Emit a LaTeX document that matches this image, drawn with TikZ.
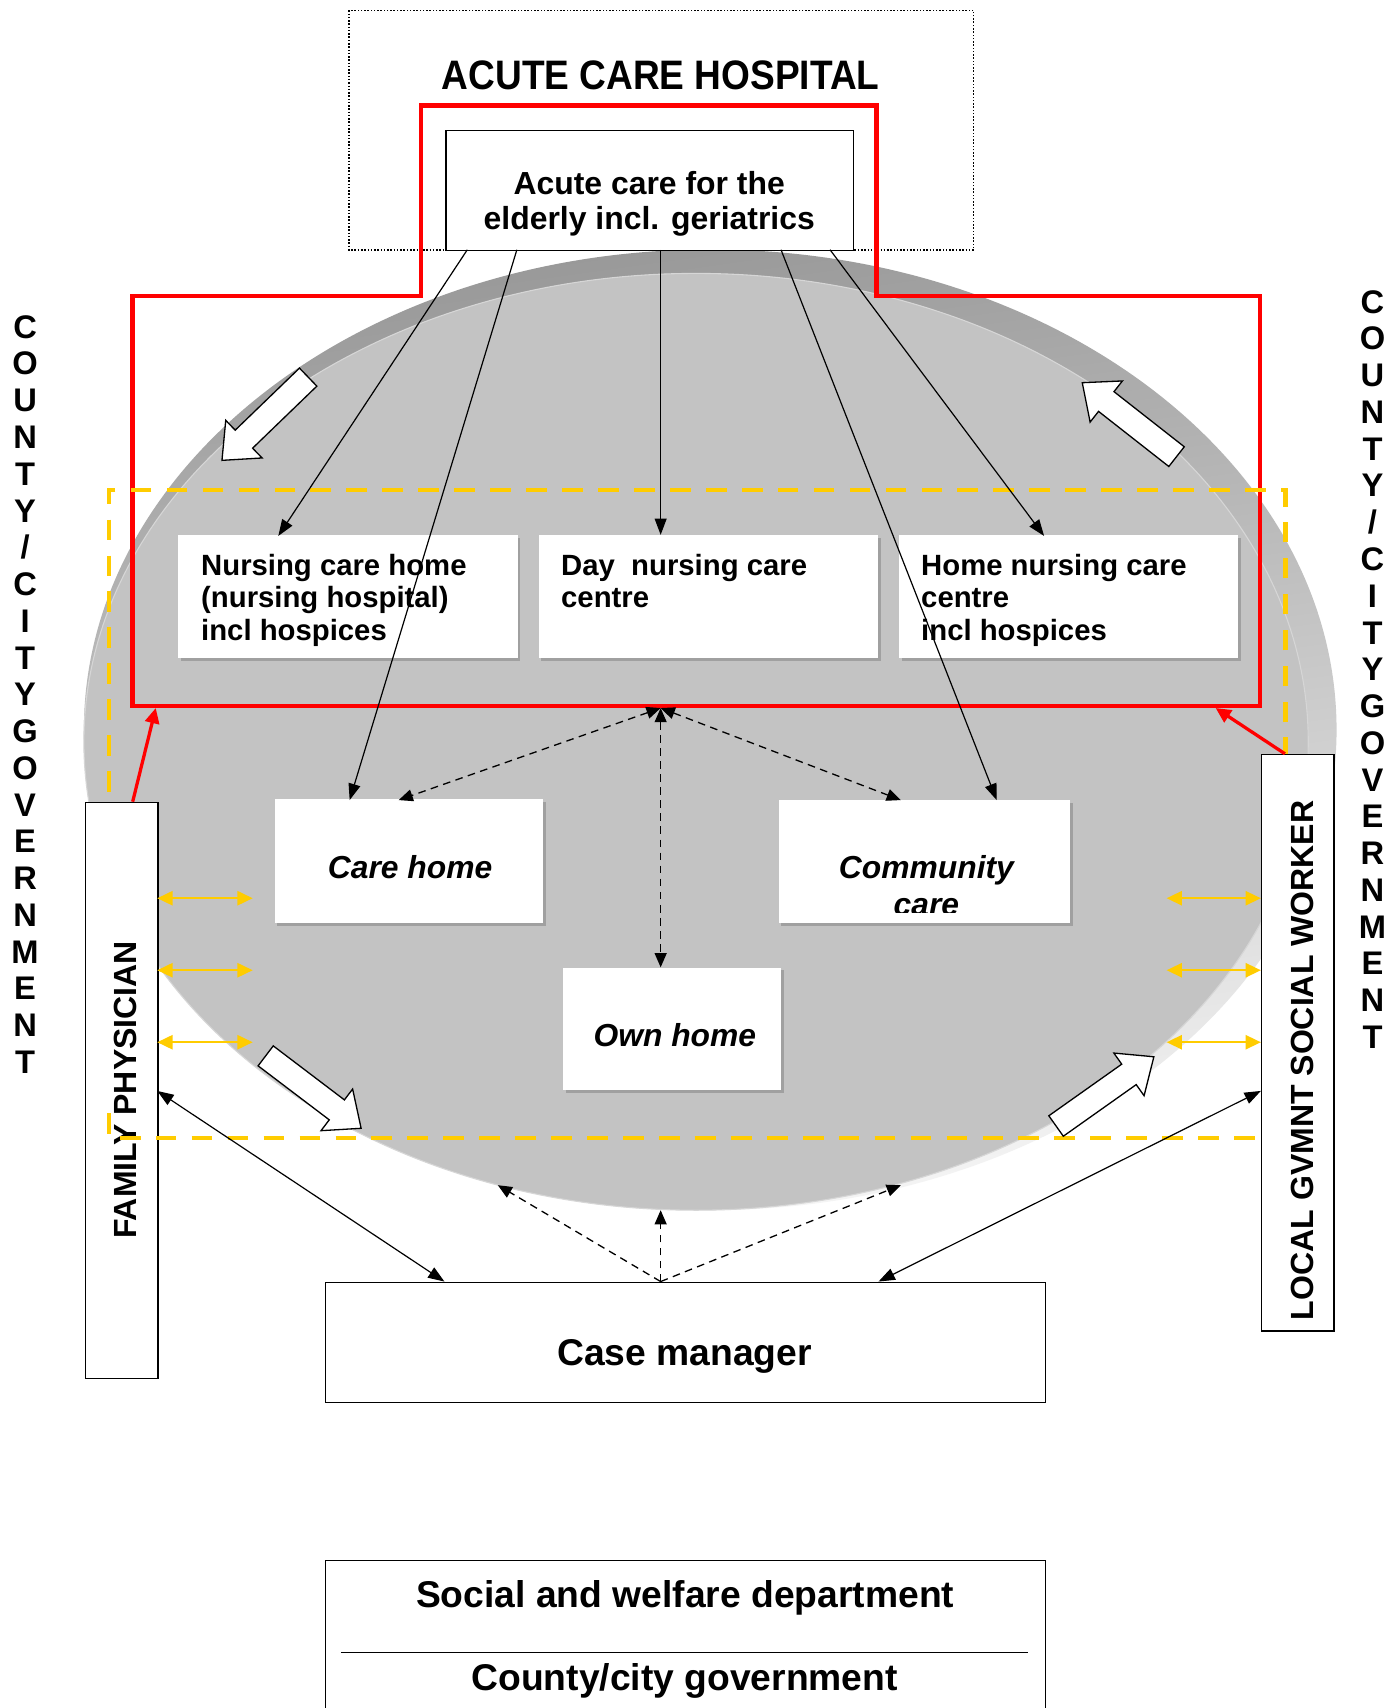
\documentclass[tikz,border=0pt]{standalone}
\usepackage{fontspec}
\setmainfont{Liberation Sans}
\newfontfamily\narrowfont{Liberation Sans}[FakeStretch=0.9]
\usetikzlibrary{arrows.meta,shadows}
\definecolor{gold}{RGB}{255,204,0}
\definecolor{disc}{RGB}{195,195,195}
\definecolor{discdark}{RGB}{152,152,152}
\definecolor{disclight}{RGB}{245,245,245}
\definecolor{discrim}{RGB}{214,214,214}
\definecolor{shadowgray}{RGB}{160,160,160}
\begin{document}
\begin{tikzpicture}[x=1pt,y=-1pt,
  framebox/.style={draw=black, line width=1.3pt, fill=white, inner sep=0pt, anchor=north west},
  shbox/.style={fill=white, draw=none, inner sep=0pt, anchor=north west,
    drop shadow={shadow xshift=2.5pt, shadow yshift=-2.5pt, fill=shadowgray, opacity=1}},
  nursetxt/.style={font=\fontsize{26.9}{30.1}\selectfont\bfseries, inner sep=0pt, align=left, anchor=north west},
  itxt/.style={font=\fontsize{29.2}{32}\selectfont\bfseries\itshape, inner sep=0pt, anchor=base},
  sidetxt/.style={font=\fontsize{29.4}{32}\selectfont\bfseries, inner sep=0pt, anchor=base, rotate=90},
  govtxt/.style={font=\fontsize{30}{33.75}\selectfont\bfseries, inner sep=0pt, align=center},
  bigtxt/.style={font=\fontsize{34.2}{38}\selectfont\bfseries, inner sep=0pt, anchor=base},
  solidarrow/.style={-{Triangle[length=15pt,width=11pt]}, line width=1.1pt},
  soliddbl/.style={{Triangle[length=15pt,width=11pt]}-{Triangle[length=15pt,width=11pt]}, line width=1.1pt},
  dashdbl/.style={{Triangle[length=13pt,width=11pt]}-{Triangle[length=13pt,width=11pt]}, line width=1.2pt, dash pattern=on 7pt off 5pt},
  dashone/.style={-{Triangle[length=13pt,width=11pt]}, line width=1.2pt, dash pattern=on 7pt off 5pt},
  golddbl/.style={{Triangle[length=14pt,width=13pt]}-{Triangle[length=14pt,width=13pt]}, draw=gold, fill=gold, line width=1.8pt},
  redarrow/.style={-{Triangle[length=14pt,width=13pt]}, draw=red, fill=red, line width=3pt},
  goldline/.style={draw=gold, line width=4pt, dash pattern=on 19pt off 14pt},
  blockarrow/.pic={\draw[line width=1.2pt, fill=white, line join=miter]
     (0,-11.5) -- (82,-11.5) -- (82,-24) -- (110,0) -- (82,24) -- (82,11.5) -- (0,11.5) -- cycle;}
]
\useasboundingbox (0,0) rectangle (1275,1568);
\fill[white] (0,0) rectangle (1275,1568);

% disc
\shade[top color=discdark, bottom color=disclight, shading angle=8] (652,670) ellipse [x radius=575, y radius=441];
\filldraw[fill=disc, draw=discrim, line width=1pt] (639,681) ellipse [x radius=562, y radius=430];

% dotted hospital frame
\draw[line width=1.1pt, dash pattern=on 1.4pt off 1.6pt] (320.4,9.5) rectangle (894,229.5);
\node[bigtxt, font=\narrowfont\bfseries\fontsize{37.8}{40}\selectfont] (hosp) at (606.5,82) {ACUTE CARE HOSPITAL};

% red frame
\draw[red, line width=4pt, line join=miter] (121.8,272) -- (386.5,272) -- (386.5,97) -- (804.5,97)
  -- (804.5,272) -- (1156.6,272) -- (1156.6,648) -- (121.8,648) -- cycle;

% acute box
\node[framebox, minimum width=374.4pt, minimum height=110pt] (acute) at (408.6,119.3) {};
\node[font=\fontsize{29.3}{32}\selectfont\bfseries, inner sep=0pt, align=center] (acutet) at (596,187.4)
  {Acute care for the\\elderly incl. geriatrics};

% white boxes
\node[shbox, minimum width=311.5pt, minimum height=113.3pt] (nch) at (163.5,491) {};
\node[shbox, minimum width=311.5pt, minimum height=113.3pt] (dnc) at (494.2,491) {};
\node[shbox, minimum width=311.5pt, minimum height=113.3pt] (hnc) at (825,491) {};
\node[nursetxt] (ncht) at (184.5,508.2) {Nursing care home\\(nursing hospital)\\incl hospices};
\node[nursetxt] (dnct) at (515,508.2) {Day\ \ nursing care\\centre};
\node[nursetxt] (hnct) at (845.5,508.2) {Home nursing care\\centre\\incl hospices};

\node[shbox, minimum width=246.9pt, minimum height=113.8pt] (ch) at (251.8,733.5) {};
\node[shbox, minimum width=267.4pt, minimum height=113.3pt] (cc) at (714.6,734.2) {};
\node[shbox, minimum width=200pt, minimum height=112.6pt] (oh) at (517,888.2) {};
\node[itxt] (cht) at (376.5,806.3) {Care home};
\node[itxt] (cct) at (850.5,806.3) {Community};
\begin{scope}
  \clip (714.6,734.2) rectangle (982,837.5);
  \node[itxt] (cct2) at (850.5,840) {care};
\end{scope}
\node[itxt] (oht) at (619.5,960.3) {Own home};

% family physician box
\node[framebox, minimum width=66.4pt, minimum height=529pt] (fp) at (78,736) {};
\node[sidetxt] (fpt) at (124.9,1000.6) {FAMILY PHYSICIAN};

% yellow dashed frame
\draw[goldline] (100,1022) -- (100,1045) -- (1180,1045) -- (1180,450) -- (100,450) -- (100,736);

% local government social worker box
\node[framebox, minimum width=66.4pt, minimum height=529.4pt] (lg) at (1157.5,692) {};
\node[sidetxt] (lgt) at (1205.8,973.4) {LOCAL GVMNT SOCIAL WORKER};

% case manager
\node[framebox, minimum width=661pt, minimum height=110.5pt] (cm) at (298,1176.5) {};
\node[bigtxt] (cmt) at (628.5,1254) {Case manager};

% social and welfare department
\node[framebox, minimum width=661pt, minimum height=220pt] (swd) at (298,1432) {};
\coordinate (swl) at (313,1517);
\coordinate (swr) at (944,1517);
\draw[line width=1.3pt] (swl) -- (swr);
\node[bigtxt] (swdt) at (629,1476) {Social and welfare department};
\node[bigtxt] (cgt) at (628.5,1552) {County/city government};

% county/city government vertical labels
\node[govtxt] (govl) at (23,637.5) {C\\O\\U\\N\\T\\Y\\/\\C\\I\\T\\Y\\G\\O\\V\\E\\R\\N\\M\\E\\N\\T};
\node[govtxt] (govr) at (1260,614.5) {C\\O\\U\\N\\T\\Y\\/\\C\\I\\T\\Y\\G\\O\\V\\E\\R\\N\\M\\E\\N\\T};

% arrows from acute care
\coordinate (a1) at (429,229.3);
\coordinate (a2) at (474.5,229.3);
\coordinate (a3) at (606.5,229.3);
\coordinate (a4) at (717,229.3);
\coordinate (a5) at (762,229.3);
\coordinate (t1) at (255.5,492);
\coordinate (t2) at (321,734.5);
\coordinate (t3) at (606.5,491);
\coordinate (t4) at (915,734.5);
\coordinate (t5) at (958.5,492);
\draw[solidarrow] (a1) -- (t1);
\draw[solidarrow] (a2) -- (t2);
\draw[solidarrow] (a3) -- (t3);
\draw[solidarrow] (a4) -- (t4);
\draw[solidarrow] (a5) -- (t5);

% dashed hub arrows
\coordinate (hub) at (606.5,650);
\coordinate (hch) at (366,734.5);
\coordinate (hcc) at (827,734.5);
\coordinate (hoh) at (606.5,888);
\draw[dashdbl] (hub) -- (hch);
\draw[dashdbl] (hub) -- (hcc);
\draw[dashdbl] (hub) -- (hoh);

% dashed from case manager
\coordinate (cm0) at (606.5,1176.5);
\coordinate (e1) at (457,1088);
\coordinate (e2) at (606.5,1111);
\coordinate (e3) at (827,1088);
\draw[dashone] (cm0) -- (e1);
\draw[dashone] (cm0) -- (e2);
\draw[dashone] (cm0) -- (e3);

% solid double arrows
\coordinate (fp1) at (144.4,1001.5);
\coordinate (cmL) at (408,1176.5);
\coordinate (lg1) at (1157.5,1001.5);
\coordinate (cmR) at (806.5,1176.5);
\draw[soliddbl] (fp1) -- (cmL);
\draw[soliddbl] (lg1) -- (cmR);

% red arrows
\coordinate (fpTop) at (121.8,736);
\coordinate (rL) at (143,650);
\coordinate (lgTop) at (1179.6,692);
\coordinate (rR) at (1116,650);
\draw[redarrow] (fpTop) -- (rL);
\draw[redarrow] (lgTop) -- (rR);

% gold double arrows
\foreach \yy [count=\i] in {824.6,890.7,956.8}{
  \coordinate (gl\i a) at (144.4,\yy);
  \coordinate (gl\i b) at (232,\yy);
  \coordinate (gr\i a) at (1071,\yy);
  \coordinate (gr\i b) at (1157.5,\yy);
  \draw[golddbl] (gl\i a) -- (gl\i b);
  \draw[golddbl] (gr\i a) -- (gr\i b);
}

% white block arrows
\pic[rotate=224] at (282.9,346.2) {blockarrow};
\pic[rotate=141.9] at (1080.1,419.2) {blockarrow};
\pic[rotate=-37.2] at (243.9,969.3) {blockarrow};
\pic[rotate=35.3] at (969.5,1033.7) {blockarrow};
\end{tikzpicture}
\end{document}
